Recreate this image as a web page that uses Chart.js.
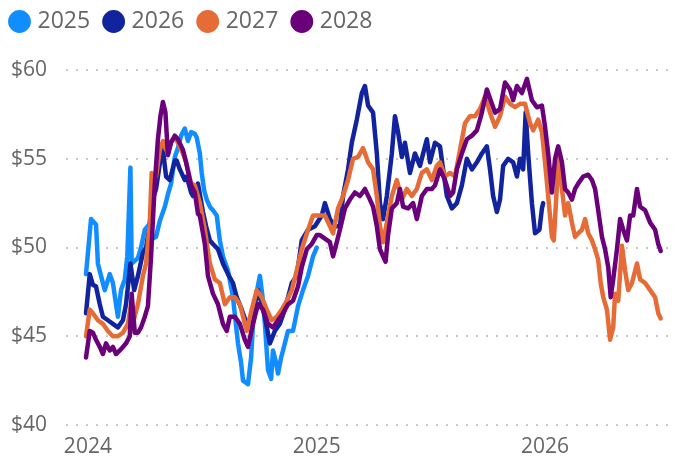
<!DOCTYPE html>
<html>
<head>
<meta charset="utf-8">
<script src="https://cdn.jsdelivr.net/npm/chart.js@4.4.1/dist/chart.umd.min.js"></script>
<style>html,body{margin:0;padding:0;background:#fff;}canvas{display:block;}</style>
</head>
<body>
<canvas id="c" width="678" height="461"></canvas>
<script>
// x values: days since 1 Jan 2024
const seriesNames = ['2025', '2026', '2027', '2028'];
const seriesColors = ['#118DFF', '#12239E', '#E66C37', '#6B007B'];
const tickDays = [0, 366, 731];
const tickLabels = ['2024', '2025', '2026'];
const yTicks = [40, 45, 50, 55, 60];

const days2025 = [-3,5,13,16,21,27,35,40,45,48, 53,59,63,68,70,80,85,91,98,104, 109,115,123,128,133,139,144,149,155,160, 165,171,174,179,182,186,190,195,200,206, 211,216,224,232,240,245,248,256,261,264, 270,275,279,283,288,293,296,301,304,309, 312,320,328,336,344,352,360,366];
const price2025 = [48.5,51.6,51.3,49.1,48.4,47.6,48.5,48.0,46.8,46.1, 47.6,48.2,49.5,54.5,49.1,49.4,50.0,51.0,51.3,50.5, 50.6,51.5,52.3,53.0,53.6,55.1,55.6,56.3,56.7,56.0, 56.5,56.4,56.2,55.3,54.2,53.2,52.7,52.3,52.1,51.8, 50.4,49.5,48.7,47.2,44.6,43.5,42.5,42.3,43.8,45.7, 47.5,48.4,47.3,45.7,43.1,42.6,44.2,43.5,42.9,43.8, 44.2,45.3,45.3,46.7,47.6,48.4,49.5,50.0];

const days2026 = [-3,3,8,13,19,24,32,40,48,56, 61,68,74,80,88,93,98,102,109,117, 120,125,131,139,142,147,155,158,165,168, 176,184,189,195,200,208,216,224,232,238, 246,254,262,272,283,291,299,307,315,326, 334,342,352,363,374,379,387,395,403,408, 416,422,430,438,443,448,456,462,467,472, 478,486,491,496,502,507,515,523,531,539, 542,547,555,563,568,574,582,590,598,606, 614,622,630,638,643,648,654,659,664,672, 680,686,691,696,700,704,710,715,722,726, 728];
const price2026 = [46.3,48.5,47.9,47.8,46.8,46.1,45.9,45.7,45.5,45.9, 46.8,49.1,47.6,48.4,49.7,50.0,51.0,52.5,53.3,55.2, 55.5,54.0,53.8,54.9,54.9,54.4,53.8,54.0,53.1,52.9, 53.6,52.0,51.2,50.4,50.2,49.9,49.1,48.5,48.0,47.2, 46.5,45.7,46.1,47.6,46.1,44.6,45.3,45.7,46.5,48.0, 48.4,50.4,51.0,51.2,51.8,52.5,51.6,51.2,51.2,52.9, 54.4,55.9,57.2,58.7,59.1,58.0,57.6,55.3,52.5,51.6, 52.9,55.3,57.4,56.5,55.1,55.9,54.2,55.3,54.6,55.7, 56.1,54.8,55.9,55.7,54.4,52.9,52.2,52.5,53.5,55.0, 54.4,54.8,55.3,55.7,54.4,52.9,52.0,52.7,54.6,55.0, 54.8,54.0,55.0,54.4,57.6,55.3,52.5,50.8,51.0,52.2, 52.5];

const days2027 = [-3,3,8,16,24,32,40,48,56,64, 69,74,80,88,93,99,102,109,115,120, 125,131,139,144,152,157,165,171,179,187, 195,203,211,219,227,235,243,254,262,270, 278,286,294,302,310,318,326,334,342,352, 360,368,379,387,392,400,408,416,424,432, 440,448,456,462,467,472,478,486,494,502, 510,518,526,534,542,550,558,563,571,579, 587,595,603,611,619,627,635,643,651,659, 667,675,683,691,699,707,712,720,726,731, 736,742,745,750,752,758,763,768,774,779, 784,790,795,800,806,811,816,820,824,830, 835,840,843,848,854,859,864,870,878,883, 891,899,907,912,916];
const price2027 = [45.0,46.5,46.3,45.9,45.7,45.3,45.0,45.0,45.2,45.7, 46.8,46.0,46.8,48.4,49.1,51.4,54.2,54.0,55.5,56.0, 55.5,55.9,56.2,55.9,55.3,54.8,53.6,53.5,52.5,51.0, 49.1,48.2,48.0,46.8,47.2,47.2,46.8,45.3,46.5,47.6, 47.2,46.5,45.9,46.1,46.5,47.0,47.6,48.7,49.9,51.0, 51.8,51.8,51.8,51.2,50.8,52.2,52.9,53.8,55.0,55.1, 55.6,54.8,54.4,52.9,51.2,50.3,51.4,52.9,53.8,52.7, 53.3,52.9,53.3,54.2,54.4,53.8,54.6,54.8,54.0,54.2, 54.0,55.5,57.0,57.4,57.4,57.8,58.5,57.6,56.8,57.4, 58.5,58.1,57.9,58.1,58.1,57.0,56.6,57.2,56.5,54.8, 52.9,50.6,50.4,53.5,55.0,53.3,51.8,52.5,51.4,50.6, 50.8,51.0,51.6,50.8,50.4,49.9,49.3,48.0,47.2,46.5, 44.8,45.5,47.4,47.0,50.1,48.7,47.6,48.0,49.1,48.2, 48.0,47.6,47.2,46.3,46.0];

const days2028 = [-3,3,8,13,19,24,29,35,40,45, 51,56,61,67,70,75,80,85,91,96, 101,107,112,116,120,124,128,133,139,144, 152,157,165,171,176,179,187,192,200,208, 216,222,227,235,243,251,256,264,272,280, 288,296,304,312,320,328,336,342,350,358, 366,371,379,387,392,398,403,411,419,427, 435,443,451,456,462,467,472,476,480,486, 494,499,504,512,520,526,534,542,550,555, 563,571,579,584,590,598,606,614,622,630, 638,646,651,659,667,675,680,686,694,702, 710,718,726,731,736,742,747,752,758,763, 768,774,779,784,792,800,806,811,816,822, 827,832,836,840,846,851,856,862,867,872, 878,883,891,899,907,912,916];
const price2028 = [43.8,45.3,45.2,44.8,44.4,44.0,44.6,44.2,44.4,44.0, 44.2,44.4,44.6,45.0,47.4,45.2,45.2,45.5,46.1,46.7, 49.5,53.6,56.1,57.4,58.2,57.6,55.2,55.9,56.3,56.1, 55.5,54.8,53.5,53.1,51.9,51.8,50.2,48.4,47.4,46.8, 45.7,45.3,46.1,46.1,45.7,44.8,44.4,45.7,46.8,46.5, 45.7,45.5,45.9,46.3,46.8,47.0,47.8,48.9,49.9,50.2, 50.7,50.7,50.5,50.3,49.5,50.3,51.0,52.2,52.7,53.1, 52.9,53.3,52.7,52.3,51.2,49.9,49.5,49.2,50.7,52.2, 52.5,53.3,52.3,52.2,52.5,51.6,52.9,53.3,53.3,53.5, 54.4,53.8,52.9,53.1,54.4,55.3,56.1,56.3,56.6,57.6, 58.9,58.1,57.6,57.8,59.3,58.9,58.3,59.1,58.7,59.5, 58.3,57.9,58.0,56.8,55.3,53.1,55.0,55.7,54.8,53.3, 53.1,52.7,53.3,53.6,54.0,54.1,53.8,53.3,52.1,50.6, 49.9,48.9,47.2,48.2,49.9,51.6,51.0,50.4,51.8,51.8, 53.3,52.3,52.1,51.4,51.0,50.2,49.8];

const allDays = [days2025, days2026, days2027, days2028];
const allPrices = [price2025, price2026, price2027, price2028];

const FONT = "'Segoe UI', 'Open Sans', sans-serif";
const TEXT = '#666666';

const datasets = seriesNames.map((name, i) => ({
  label: name,
  data: allDays[i].map((d, j) => ({ x: d, y: allPrices[i][j] })),
  borderColor: seriesColors[i],
  backgroundColor: seriesColors[i],
  pointBackgroundColor: seriesColors[i],
  pointBorderColor: seriesColors[i],
  borderWidth: 4.5,
  pointRadius: 0,
  pointHoverRadius: 0,
  tension: 0,
  fill: false,
  borderJoinStyle: 'round',
  borderCapStyle: 'round',
  order: seriesNames.length - i
}));

const legendTweak = {
  id: 'legendTweak',
  beforeLayout(chart) {
    const lg = chart.legend;
    if (lg && !lg.__patched) {
      lg.__patched = true;
      const f = lg.fit;
      lg.fit = function () { f.call(this); this.height = 70; };
    }
  },
  afterLayout(chart) {
    chart.legend.left -= 4;
    chart.legend.top -= 7;
  }
};

new Chart(document.getElementById('c'), {
  type: 'line',
  data: { datasets },
  plugins: [legendTweak],
  options: {
    responsive: false,
    animation: false,
    events: [],
    layout: { padding: { left: 0, right: 6, top: 0, bottom: 0 } },
    plugins: {
      tooltip: { enabled: false },
      legend: {
        position: 'top',
        align: 'start',
        labels: {
          usePointStyle: true,
          pointStyle: 'circle',
          boxWidth: 13,
          boxHeight: 13,
          padding: 17,
          color: TEXT,
          font: { family: FONT, size: 23 },
          sort: (a, b) => a.datasetIndex - b.datasetIndex
        }
      }
    },
    scales: {
      x: {
        type: 'linear',
        min: -35,
        max: 934,
        grid: { display: false, drawTicks: false },
        border: { display: false },
        afterBuildTicks: s => { s.ticks = tickDays.map(v => ({ value: v })); },
        afterFit: s => { s.height = 36; },
        ticks: {
          autoSkip: false,
          maxRotation: 0,
          padding: 9,
          color: TEXT,
          font: { family: FONT, size: 21 },
          callback: (v, i) => tickLabels[i]
        }
      },
      y: {
        min: 40,
        max: 60,
        afterBuildTicks: s => { s.ticks = yTicks.map(v => ({ value: v })); },
        afterFit: s => { s.width = 66; },
        grid: { color: '#c8c8c8', lineWidth: 2, drawTicks: false },
        border: { display: false, dash: [2, 8] },
        ticks: {
          padding: 19,
          color: TEXT,
          font: { family: FONT, size: 21 },
          callback: v => '$' + v
        }
      }
    }
  }
});
</script>
</body>
</html>
